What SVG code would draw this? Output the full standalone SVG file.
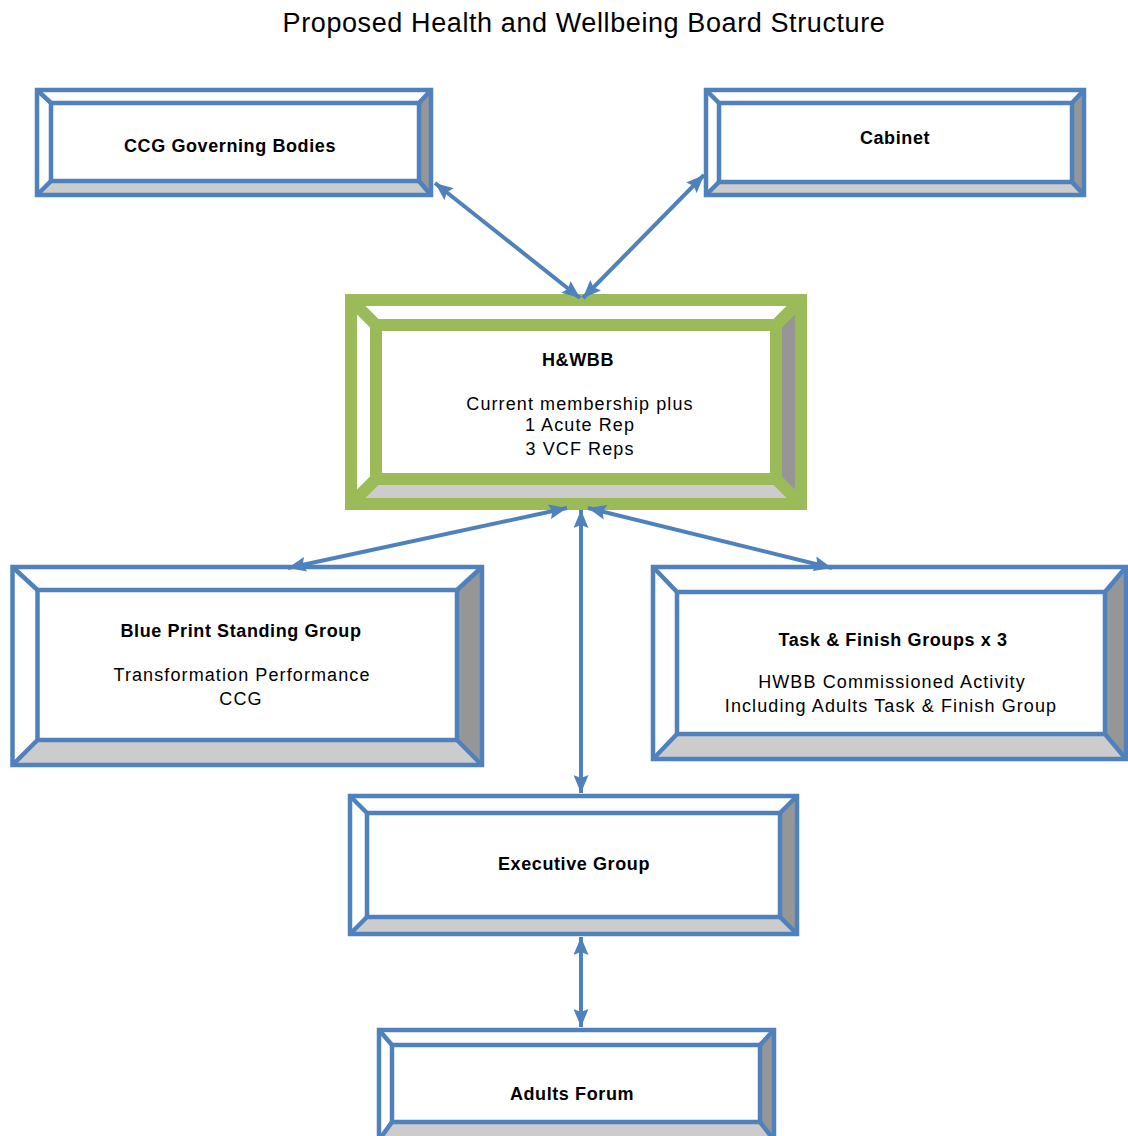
<svg xmlns="http://www.w3.org/2000/svg" width="1128" height="1136" viewBox="0 0 1128 1136">
<style>
  text { font-family: "Liberation Sans", Arial, sans-serif; fill: #000; text-anchor: middle; }
  .title { font-size: 27px; letter-spacing: 0.6px; }
  .head { font-size: 18px; font-weight: bold; letter-spacing: 0.6px; }
  .body { font-size: 18px; letter-spacing: 1.1px; }
  .face { fill: #ffffff; }
  .dark { fill: #969696; }
  .light { fill: #cccccc; }
  .blue { fill: none; stroke: #4f81bd; stroke-width: 4.5; }
  .green { fill: none; stroke: #9bbb59; stroke-width: 12; }
  .conn { fill: none; stroke: #4f81bd; stroke-width: 4; marker-start: url(#arr); marker-end: url(#arr); }
</style>
<defs>
  <marker id="arr" viewBox="0 0 18 15" refX="18" refY="7.5" markerWidth="18" markerHeight="15" markerUnits="userSpaceOnUse" orient="auto-start-reverse">
    <path d="M0,0 L18,7.5 L0,15 L3,7.5 z" fill="#4f81bd"/>
  </marker>
</defs>
<rect x="0" y="0" width="1128" height="1136" fill="#ffffff"/>
<text class="title" x="584" y="32">Proposed Health and Wellbeing Board Structure</text>

<g id="ccg">
  <rect class="face" x="37" y="90" width="394" height="105"/>
  <polygon class="dark" points="431,90 431,195 419,181 419,103"/>
  <polygon class="light" points="37,195 431,195 419,181 51,181"/>
  <path class="blue" d="M37,90 L51,103 M431,90 L419,103 M37,195 L51,181 M431,195 L419,181"/>
  <rect class="blue" x="51" y="103" width="368" height="78"/>
  <rect class="blue" x="37" y="90" width="394" height="105"/>
  <text class="head" x="230" y="152">CCG Governing Bodies</text>
</g>

<g id="cabinet">
  <rect class="face" x="706" y="90" width="378" height="105"/>
  <polygon class="dark" points="1084,90 1084,195 1072,182 1072,103"/>
  <polygon class="light" points="706,195 1084,195 1072,182 719,182"/>
  <path class="blue" d="M706,90 L719,103 M1084,90 L1072,103 M706,195 L719,182 M1084,195 L1072,182"/>
  <rect class="blue" x="719" y="103" width="353" height="79"/>
  <rect class="blue" x="706" y="90" width="378" height="105"/>
  <text class="head" x="895" y="144">Cabinet</text>
</g>

<g id="hwbb">
  <rect class="face" x="351" y="300" width="450" height="204"/>
  <polygon class="dark" points="801,300 801,504 776,479 776,325"/>
  <polygon class="light" points="351,504 801,504 776,479 376,479"/>
  <path class="green" d="M351,300 L376,325 M801,300 L776,325 M351,504 L376,479 M801,504 L776,479"/>
  <rect class="green" x="376" y="325" width="400" height="154"/>
  <rect class="green" x="351" y="300" width="450" height="204"/>
  <text class="head" x="578" y="366">H&amp;WBB</text>
  <text class="body" x="580" y="410">Current membership plus</text>
  <text class="body" x="580" y="431">1 Acute Rep</text>
  <text class="body" x="580" y="455">3 VCF Reps</text>
</g>

<g id="blueprint">
  <rect class="face" x="12.5" y="567" width="469.5" height="198"/>
  <polygon class="dark" points="482,567 482,765 457,740 457,590"/>
  <polygon class="light" points="12.5,765 482,765 457,740 37.5,740"/>
  <path class="blue" d="M12.5,567 L37.5,590 M482,567 L457,590 M12.5,765 L37.5,740 M482,765 L457,740"/>
  <rect class="blue" x="37.5" y="590" width="419.5" height="150"/>
  <rect class="blue" x="12.5" y="567" width="469.5" height="198"/>
  <text class="head" x="241" y="637">Blue Print Standing Group</text>
  <text class="body" x="242" y="681">Transformation Performance</text>
  <text class="body" x="241" y="705">CCG</text>
</g>

<g id="task">
  <rect class="face" x="653" y="567" width="473" height="192"/>
  <polygon class="dark" points="1126,567 1126,759 1105,734 1105,592"/>
  <polygon class="light" points="653,759 1126,759 1105,734 677,734"/>
  <path class="blue" d="M653,567 L677,592 M1126,567 L1105,592 M653,759 L677,734 M1126,759 L1105,734"/>
  <rect class="blue" x="677" y="592" width="428" height="142"/>
  <rect class="blue" x="653" y="567" width="473" height="192"/>
  <text class="head" x="893" y="646">Task &amp; Finish Groups x 3</text>
  <text class="body" x="892" y="688">HWBB Commissioned Activity</text>
  <text class="body" x="891" y="712">Including Adults Task &amp; Finish Group</text>
</g>

<g id="executive">
  <rect class="face" x="350" y="796" width="447" height="138"/>
  <polygon class="dark" points="797,796 797,934 780,917 780,813"/>
  <polygon class="light" points="350,934 797,934 780,917 367,917"/>
  <path class="blue" d="M350,796 L367,813 M797,796 L780,813 M350,934 L367,917 M797,934 L780,917"/>
  <rect class="blue" x="367" y="813" width="413" height="104"/>
  <rect class="blue" x="350" y="796" width="447" height="138"/>
  <text class="head" x="574" y="870">Executive Group</text>
</g>

<g id="adults">
  <rect class="face" x="379" y="1030" width="395" height="110"/>
  <polygon class="dark" points="774,1030 774,1140 760,1122 760,1045"/>
  <polygon class="light" points="379,1140 774,1140 760,1122 392,1122"/>
  <path class="blue" d="M379,1030 L392,1045 M774,1030 L760,1045 M379,1140 L392,1122 M774,1140 L760,1122"/>
  <rect class="blue" x="392" y="1045" width="368" height="77"/>
  <rect class="blue" x="379" y="1030" width="395" height="110"/>
  <text class="head" x="572" y="1100">Adults Forum</text>
</g>

<g id="connectors">
  <path class="conn" d="M435,183 L580,298"/>
  <path class="conn" d="M704,175 L583,298"/>
  <path class="conn" d="M567,508 L288,568"/>
  <path class="conn" d="M581,510 L581,793"/>
  <path class="conn" d="M588,508 L832,568"/>
  <path class="conn" d="M581,937 L581,1027"/>
</g>
</svg>
